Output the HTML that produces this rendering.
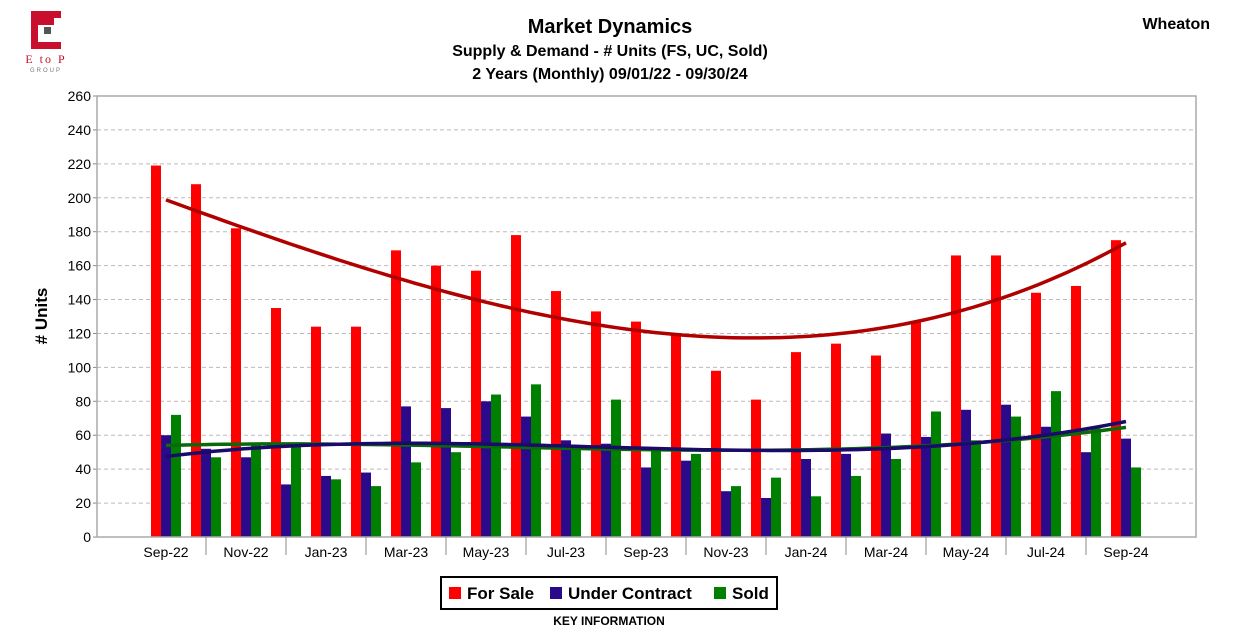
<!DOCTYPE html>
<html><head><meta charset="utf-8"><style>
body{margin:0;background:#fff;font-family:"Liberation Sans",Arial,sans-serif;}
</style></head><body>
<svg id="chart" width="1234" height="630" xmlns="http://www.w3.org/2000/svg" font-family="Liberation Sans, Arial, sans-serif">
<g>
<rect x="31" y="11" width="30" height="38" fill="#c8102e"/>
<rect x="38" y="18" width="23" height="24" fill="#fff"/>
<rect x="38" y="18" width="16" height="7" fill="#c8102e"/>
<rect x="44" y="27" width="7" height="7" fill="#555"/>
<text x="46" y="63" font-family="Liberation Serif, serif" font-size="12" fill="#c8102e" text-anchor="middle" letter-spacing="2">E to P</text>
<text x="46" y="72" font-size="6" fill="#777" text-anchor="middle" letter-spacing="2">GROUP</text>
</g>
<text x="610" y="33" font-size="20" font-weight="bold" text-anchor="middle">Market Dynamics</text>
<text x="610" y="56" font-size="16" font-weight="bold" text-anchor="middle">Supply &amp; Demand - # Units (FS, UC, Sold)</text>
<text x="610" y="79" font-size="16" font-weight="bold" text-anchor="middle">2 Years (Monthly) 09/01/22 - 09/30/24</text>
<text x="1210" y="29" font-size="16" font-weight="bold" text-anchor="end">Wheaton</text>
<text transform="translate(47,316) rotate(-90)" font-size="17" font-weight="bold" text-anchor="middle"># Units</text>
<g id="grid"></g><g id="bars"></g><g id="trends"></g><g id="axes"></g>
<g>
<rect x="441" y="577" width="336" height="32" fill="#fff" stroke="#000" stroke-width="2"/>
<rect x="449" y="587" width="12" height="12" fill="#ff0000"/>
<text x="467" y="599" font-size="17" font-weight="bold">For Sale</text>
<rect x="550" y="587" width="12" height="12" fill="#2a0a8a"/>
<text x="568" y="599" font-size="17" font-weight="bold">Under Contract</text>
<rect x="714" y="587" width="12" height="12" fill="#008000"/>
<text x="732" y="599" font-size="17" font-weight="bold">Sold</text>
</g>
<text x="609" y="625" font-size="12" font-weight="bold" text-anchor="middle">KEY INFORMATION</text>
</svg>
<script>
const months=["Sep-22","Oct-22","Nov-22","Dec-22","Jan-23","Feb-23","Mar-23","Apr-23","May-23","Jun-23","Jul-23","Aug-23","Sep-23","Oct-23","Nov-23","Dec-23","Jan-24","Feb-24","Mar-24","Apr-24","May-24","Jun-24","Jul-24","Aug-24","Sep-24"];
const forSale=[219,208,182,135,124,124,169,160,157,178,145,133,127,119,98,81,109,114,107,127,166,166,144,148,175];
const underContract=[60,52,47,31,36,38,77,76,80,71,57,55,41,45,27,23,46,49,61,59,75,78,65,50,58];
const sold=[72,47,54,55,34,30,44,50,84,90,53,81,51,49,30,35,24,36,46,74,57,71,86,64,41];
const yTicks=[0,20,40,60,80,100,120,140,160,180,200,220,240,260];
const NS="http://www.w3.org/2000/svg";
const L=97,R=1196,T=96,B=537,yMax=260,pitch=40,first=166;
const y=v=>B-v/yMax*(B-T);
const xc=i=>first+i*pitch;
function mk(tag,attrs,parent){const e=document.createElementNS(NS,tag);for(const k in attrs)e.setAttribute(k,attrs[k]);document.getElementById(parent).appendChild(e);return e;}
yTicks.forEach(t=>{
  if(t>0){const g=mk('line',{x1:L,x2:R,y1:y(t),y2:y(t),stroke:'#bbb','stroke-dasharray':'4,3'},'grid');
  
  }
  const lb=mk('text',{x:L-6,y:y(t)+5,'font-size':14,'text-anchor':'end'},'axes');lb.textContent=t;
  
  
  mk('line',{x1:L-4,x2:L,y1:y(t),y2:y(t),stroke:'#888'},'axes');
});
mk('rect',{x:L,y:T,width:R-L,height:B-T,fill:'none',stroke:'#aaa','stroke-width':1.5},'axes');
const series=[[forSale,'#ff0000','for-sale'],[underContract,'#2a0a8a','under-contract'],[sold,'#008000','sold']];
series.forEach((s,k)=>{
  s[0].forEach((v,i)=>{
    const r=mk('rect',{x:xc(i)-15+k*10,y:y(v),width:10,height:B-y(v),fill:s[1]},'bars');
    
    
  });
});
months.forEach((m,i)=>{
  if(i%2===0){const t=mk('text',{x:xc(i),y:B+20,'font-size':14,'text-anchor':'middle'},'axes');t.textContent=m;
  
  }
  else mk('line',{x1:xc(i),x2:xc(i),y1:B,y2:B+18,stroke:'#888'},'axes');
});
function polyfit(ys,deg){const n=deg+1,A=[],bv=[];for(let r=0;r<n;r++){A.push(new Array(n).fill(0));bv.push(0);}
  ys.forEach((v,i)=>{const t=i/(ys.length-1);for(let r=0;r<n;r++){bv[r]+=v*Math.pow(t,r);for(let c=0;c<n;c++)A[r][c]+=Math.pow(t,r+c);}});
  for(let c=0;c<n;c++){let p=c;for(let r=c+1;r<n;r++)if(Math.abs(A[r][c])>Math.abs(A[p][c]))p=r;[A[c],A[p]]=[A[p],A[c]];[bv[c],bv[p]]=[bv[p],bv[c]];
    for(let r=0;r<n;r++)if(r!==c){const f=A[r][c]/A[c][c];for(let k=c;k<n;k++)A[r][k]-=f*A[c][k];bv[r]-=f*bv[c];}}
  return bv.map((v,i)=>v/A[i][i]);}
[[forSale,'#b00000','trend-for-sale',3],[sold,'#0a6a0a','trend-sold',3],[underContract,'#1a0a6a','trend-under-contract',3]].forEach(s=>{
  const c=polyfit(s[0],s[3]);let d='';const N=s[0].length-1;
  for(let j=0;j<=100;j++){const t=j/100;let v=0;c.forEach((a,k)=>v+=a*Math.pow(t,k));d+=(j?'L':'M')+(xc(0)+t*N*pitch).toFixed(1)+','+y(v).toFixed(1);}
  const p=mk('path',{d:d,fill:'none',stroke:s[1],'stroke-width':3.5},'trends');
  
  
});
</script>
</body></html>
